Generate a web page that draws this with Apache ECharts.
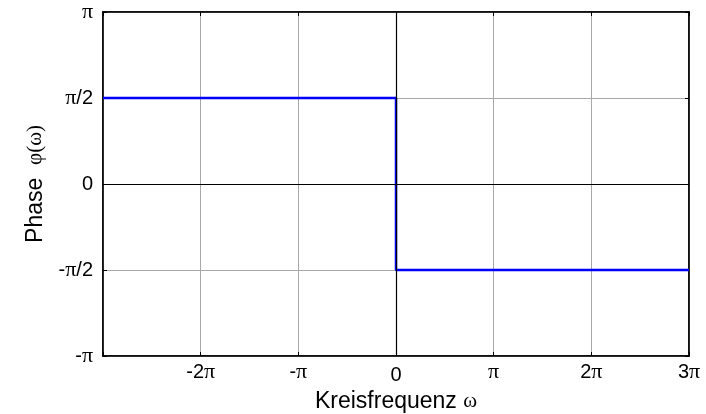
<!DOCTYPE html>
<html><head><meta charset="utf-8">
<script src="https://cdn.jsdelivr.net/npm/echarts@6/dist/echarts.min.js"></script>
<style>html,body{margin:0;padding:0;background:#fff}#c{width:706px;height:414px}</style>
</head><body><div id="c"></div>
<script>
const PI = Math.PI;
// phase response of an ideal Hilbert transformer
const omega = [-3*PI, 0, 0, 3*PI];
const phase = [PI/2, PI/2, -PI/2, -PI/2];
const xTickLabels = {'-3':'', '-2':'{a|-2}{p|π}', '-1':'{a|-}{p|π}', '0':'{z|0}', '1':'{p|π}', '2':'{a|2}{p|π}', '3':'{a|3}{p|π}'};
const yTickLabels = {'-2':'{a|-}{p|π}', '-1':'{a|-}{p|π}{a|/2}', '0':'{a|0}', '1':'{p|π}{a|/2}', '2':'{p|π}'};

const rich = {
  a:{fontFamily:'Liberation Sans',fontSize:20,color:'#000'},
  z:{fontFamily:'Liberation Sans',fontSize:20,color:'#000',padding:[4,0,0,0]},
  p:{fontFamily:'Liberation Serif',fontSize:22,color:'#000'},
  n:{fontFamily:'Liberation Sans',fontSize:23,color:'#000'},
  g:{fontFamily:'Liberation Serif',fontSize:21,color:'#000'}
};
const gridLine = {show:true, lineStyle:{color:'#a8a8a8', type:'solid', width:1}};
function xf(v){ const k = Math.round(v/PI); return xTickLabels[String(k)] ?? ''; }
function yf(v){ const k = Math.round(v/(PI/2)); return yTickLabels[String(k)] ?? ''; }
const lbl = (f, m) => ({formatter:f, rich:rich, margin:m, fontSize:20, fontFamily:'Liberation Sans', color:'#000'});
const axLine = {show:true, onZero:false, lineStyle:{color:'#000', width:1.5}};
const tick = {show:true, inside:true, length:4, lineStyle:{color:'#000'}};

const chart = echarts.init(document.getElementById('c'));
chart.setOption({
  animation:false,
  grid:{left:103, right:17, top:12, bottom:58, outerBoundsMode:'none', containLabel:false,
        show:true, borderColor:'#000', borderWidth:1.5, backgroundColor:'#fff'},
  xAxis:[
    {type:'value', min:-3*PI, max:3*PI, interval:PI, position:'bottom',
     axisLine:axLine, axisTick:tick, axisLabel:lbl(xf, 5), splitLine:gridLine,
     name:'{n|Kreisfrequenz }{g|ω}', nameLocation:'middle', nameGap:27,
     nameTextStyle:{rich:rich, fontSize:23}},
    {type:'value', min:-3*PI, max:3*PI, interval:PI, position:'top',
     axisLine:axLine, axisTick:tick, axisLabel:{show:false}, splitLine:{show:false}}
  ],
  yAxis:[
    {type:'value', min:-PI, max:PI, interval:PI/2, position:'left',
     axisLine:axLine, axisTick:tick, axisLabel:lbl(yf, 10), splitLine:gridLine,
     name:'{n|Phase  }{g|φ(ω)}', nameLocation:'middle', nameGap:56, nameRotate:90,
     nameTextStyle:{rich:rich, fontSize:23}},
    {type:'value', min:-PI, max:PI, interval:PI/2, position:'right',
     axisLine:axLine, axisTick:tick, axisLabel:{show:false}, splitLine:{show:false}}
  ],
  series:[
    {type:'line', data:[], z:1, silent:true,
     markLine:{silent:true, symbol:'none', label:{show:false},
       lineStyle:{color:'#000', type:'solid', width:1.2},
       data:[{xAxis:0},{yAxis:0}]}},
    {type:'line', z:3, data:omega.map((x,i)=>[x,phase[i]]), showSymbol:false, symbol:'none',
     lineStyle:{color:'#0000ff', width:2.5}}
  ]
});
</script></body></html>
